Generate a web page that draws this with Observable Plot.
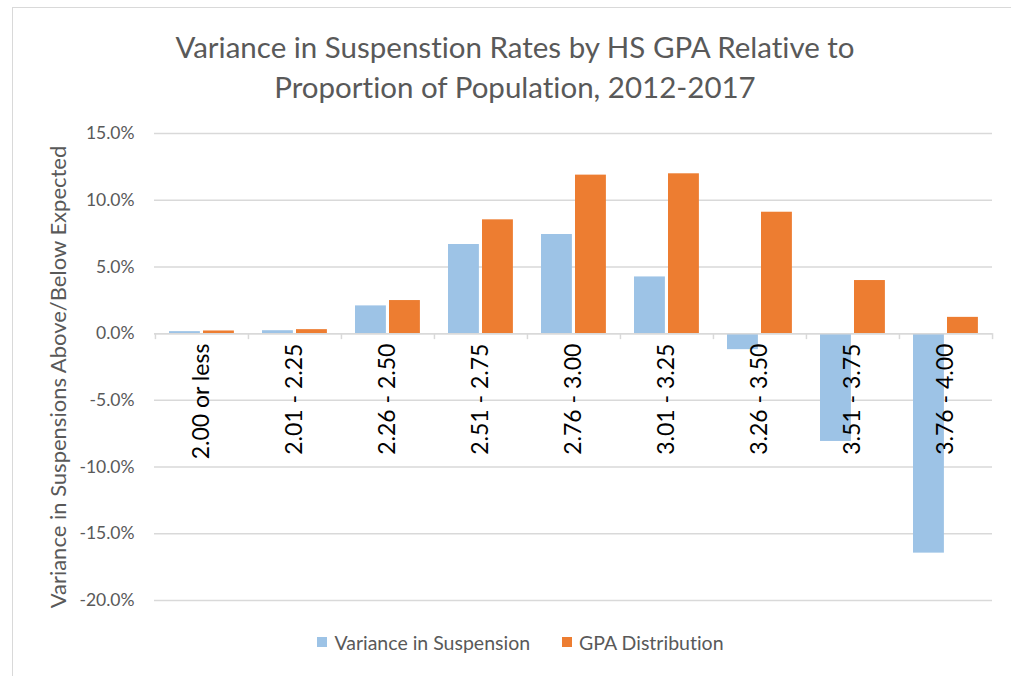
<!DOCTYPE html>
<html>
<head>
<meta charset="utf-8">
<script src="https://cdn.jsdelivr.net/npm/d3@7"></script>
<script src="https://cdn.jsdelivr.net/npm/@observablehq/plot@0.6"></script>
<style>
  html, body { margin: 0; padding: 0; background: #fff; }
  #wrap { position: relative; width: 1011px; height: 676px; overflow: hidden; font-family: Lato, "Open Sans", sans-serif; font-variant-ligatures: none; }
  #wrap svg text { font-variant-ligatures: none; }
  #frame { position: absolute; left: 12px; top: 7px; width: 1100px; height: 800px; border-left: 1.5px solid #D9D9D9; border-top: 1.5px solid #D9D9D9; box-sizing: border-box; }
  #title { position: absolute; left: 0; top: 27px; width: 1030px; text-align: center; font-size: 29.5px; line-height: 40px; color: #595959; }
  #chart { position: absolute; left: 0; top: 120px; }
  #legend { position: absolute; left: 0; top: 628px; width: 1041px; text-align: center; font-size: 19.5px; color: #595959; }
  .item { display: inline-flex; align-items: center; margin: 0 16px; }
  .sw { width: 10px; height: 10px; display: inline-block; margin-right: 7px; }
</style>
</head>
<body>
<div id="wrap">
  <div id="frame"></div>
  <div id="title">Variance in Suspenstion Rates by HS GPA Relative to<br>Proportion of Population, 2012-2017</div>
  <div id="chart"></div>
  <div id="legend"></div>
</div>
<script>
const categories = ["2.00 or less", "2.01 - 2.25", "2.26 - 2.50", "2.51 - 2.75", "2.76 - 3.00", "3.01 - 3.25", "3.26 - 3.50", "3.51 - 3.75", "3.76 - 4.00"];
const seriesNames = ["Variance in Suspension", "GPA Distribution"];
const varianceValues = [0.15, 0.22, 2.08, 6.68, 7.43, 4.25, -1.2, -8.08, -16.45];
const gpaValues = [0.2, 0.3, 2.48, 8.53, 11.88, 11.98, 9.1, 3.98, 1.22];
const yTicks = [-20, -15, -10, -5, 0, 5, 10, 15];
const colors = ["#9DC3E6", "#ED7D31"];
const yLabel = "Variance in Suspensions Above/Below Expected";

const rows = [];
categories.forEach((c, i) => {
  rows.push({cat: c, series: seriesNames[0], value: varianceValues[i]});
  rows.push({cat: c, series: seriesNames[1], value: gpaValues[i]});
});

const W = 1011, mL = 154, mR = 19;
const band = (W - mL - mR) / categories.length;

const chart = Plot.plot({
  width: W,
  height: 490,
  marginLeft: mL,
  marginRight: mR,
  marginTop: 13,
  marginBottom: 10,
  style: {fontFamily: "Lato, 'Open Sans', sans-serif", overflow: "visible"},
  x: {domain: categories, padding: 0, axis: null},
  y: {domain: [-20, 15], ticks: yTicks, axis: null},
  color: {domain: seriesNames, range: colors},
  marks: [
    Plot.ruleY(yTicks, {stroke: "#D9D9D9", strokeWidth: 1.5}),
    Plot.barY(rows.filter(d => d.series === seriesNames[0]), {x: "cat", y: "value", fill: "series", insetLeft: 14, insetRight: band - 45}),
    Plot.barY(rows.filter(d => d.series === seriesNames[1]), {x: "cat", y: "value", fill: "series", insetLeft: 48, insetRight: band - 79}),
    Plot.ruleY([0], {stroke: "#D9D9D9", strokeWidth: 1.5}),
    Plot.ruleX(categories, {x: d => d, y1: 0, y2: -0.45, dx: -band / 2, stroke: "#D9D9D9", strokeWidth: 1.5}),
    Plot.ruleX([categories[categories.length - 1]], {x: d => d, y1: 0, y2: -0.45, dx: band / 2, stroke: "#D9D9D9", strokeWidth: 1.5}),
    Plot.text(categories, {x: d => d, y: 0, text: d => d, rotate: -90, textAnchor: "end", dy: 10, fontSize: 23, fill: "#000"}),
    Plot.axisY({ticks: yTicks, tickSize: 0, tickPadding: 20, tickFormat: d => d.toFixed(1) + "%", fontSize: 17.5, color: "#595959", label: null}),
    Plot.text([yLabel], {frameAnchor: "left", textAnchor: "middle", dx: -96, dy: 10, rotate: -90, text: d => d, fontSize: 22, fill: "#595959"})
  ]
});
document.getElementById("chart").appendChild(chart);

const legend = document.getElementById("legend");
seriesNames.forEach((s, i) => {
  const it = document.createElement("span");
  it.className = "item";
  const sw = document.createElement("span");
  sw.className = "sw";
  sw.style.background = colors[i];
  it.appendChild(sw);
  it.appendChild(document.createTextNode(s));
  legend.appendChild(it);
});
</script>
</body>
</html>
